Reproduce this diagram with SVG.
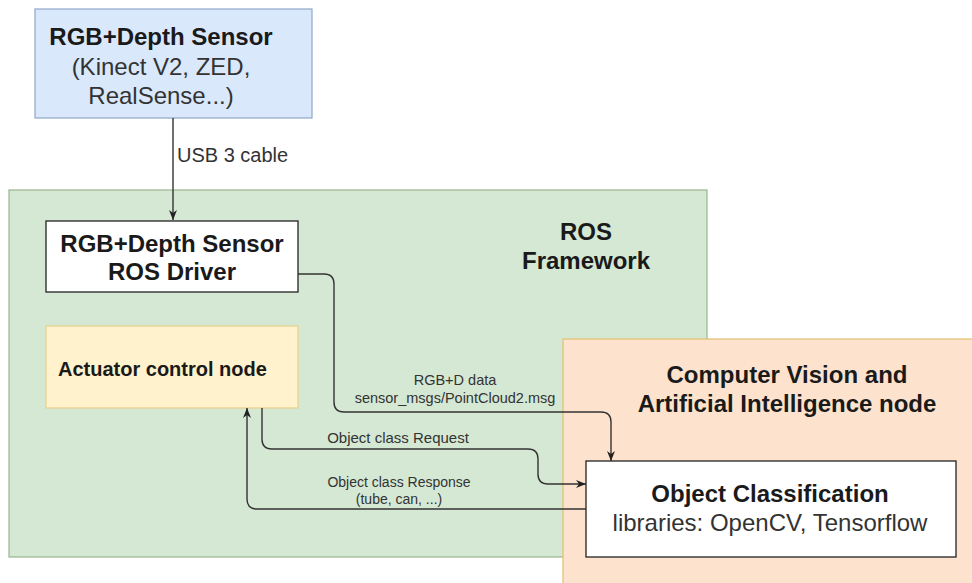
<svg xmlns="http://www.w3.org/2000/svg" width="972" height="583" viewBox="0 0 972 583">
<defs>
<style>
text{font-family:"Liberation Sans",Arial,sans-serif;fill:#1a1a1a}
.b{font-weight:bold;font-size:24px}
.r{font-size:24px;fill:#333}
.lbl{font-size:14.5px;fill:#333}
.c{fill:none;stroke:#333;stroke-width:1.4}
</style>
<marker id="ar" viewBox="0 0 10 8" refX="10" refY="4" markerWidth="10" markerHeight="8" markerUnits="userSpaceOnUse" orient="auto">
<path d="M0,0 L10,4 L0,8 L3,4 z" fill="#222"/>
</marker>
</defs>
<rect width="972" height="583" fill="#fff"/>
<g id="ros-framework">
<rect x="9" y="190" width="698" height="367" fill="#d5e8d4" stroke="#9ab58f" stroke-width="1.2"/>
<text class="b" x="586" y="240" text-anchor="middle">ROS</text>
<text class="b" x="586" y="269" text-anchor="middle">Framework</text>
</g>
<g id="cv-ai-node">
<rect x="563" y="339" width="420" height="260" fill="#fde3cd" stroke="#e2c070" stroke-width="1.2"/>
<text class="b" x="787" y="383" text-anchor="middle">Computer Vision and</text>
<text class="b" x="787" y="412" text-anchor="middle">Artificial Intelligence node</text>
</g>
<g id="sensor">
<rect x="35" y="9" width="277" height="109" fill="#dae8fc" stroke="#8fa7c9" stroke-width="1.2"/>
<text class="b" x="161" y="45" text-anchor="middle">RGB+Depth Sensor</text>
<text class="r" x="161" y="75" text-anchor="middle">(Kinect V2, ZED,</text>
<text class="r" x="161" y="104" text-anchor="middle">RealSense...)</text>
</g>
<g id="driver">
<rect x="46" y="221" width="252" height="71" fill="#fff" stroke="#222" stroke-width="1.3"/>
<text class="b" x="172" y="252" text-anchor="middle">RGB+Depth Sensor</text>
<text class="b" x="172" y="280" text-anchor="middle">ROS Driver</text>
</g>
<g id="actuator">
<rect x="46" y="326" width="252" height="82" fill="#fff2cc" stroke="#e6d08a" stroke-width="1.2"/>
<text x="58" y="376" style="font-weight:bold;font-size:20px">Actuator control node</text>
</g>
<g id="classification">
<rect x="586" y="461" width="370" height="96" fill="#fff" stroke="#222" stroke-width="1.3"/>
<text class="b" x="770" y="502" text-anchor="middle">Object Classification</text>
<text class="r" x="770" y="531" text-anchor="middle">libraries: OpenCV, Tensorflow</text>
</g>
<g id="connectors">
<path class="c" d="M173,118 V220" marker-end="url(#ar)"/>
<text x="177" y="162" style="font-size:20px;fill:#333">USB 3 cable</text>
<path class="c" d="M298,274 H324 Q334,274 334,284 V402 Q334,412 344,412 H601 Q611,412 611,422 V461" marker-end="url(#ar)"/>
<text class="lbl" x="455" y="385" text-anchor="middle">RGB+D data</text>
<text class="lbl" x="455" y="403" text-anchor="middle">sensor_msgs/PointCloud2.msg</text>
<path class="c" d="M262,408 V439 Q262,449 272,449 H528 Q538,449 538,459 V474 Q538,484 548,484 H586" marker-end="url(#ar)"/>
<text x="398" y="443" text-anchor="middle" style="font-size:15px;fill:#333">Object class Request</text>
<path class="c" d="M586,509 H257 Q247,509 247,499 V408" marker-end="url(#ar)"/>
<text class="lbl" x="399" y="487" text-anchor="middle" style="font-size:14px">Object class Response</text>
<text class="lbl" x="399" y="504" text-anchor="middle" style="font-size:14px">(tube, can, ...)</text>
</g>
</svg>
